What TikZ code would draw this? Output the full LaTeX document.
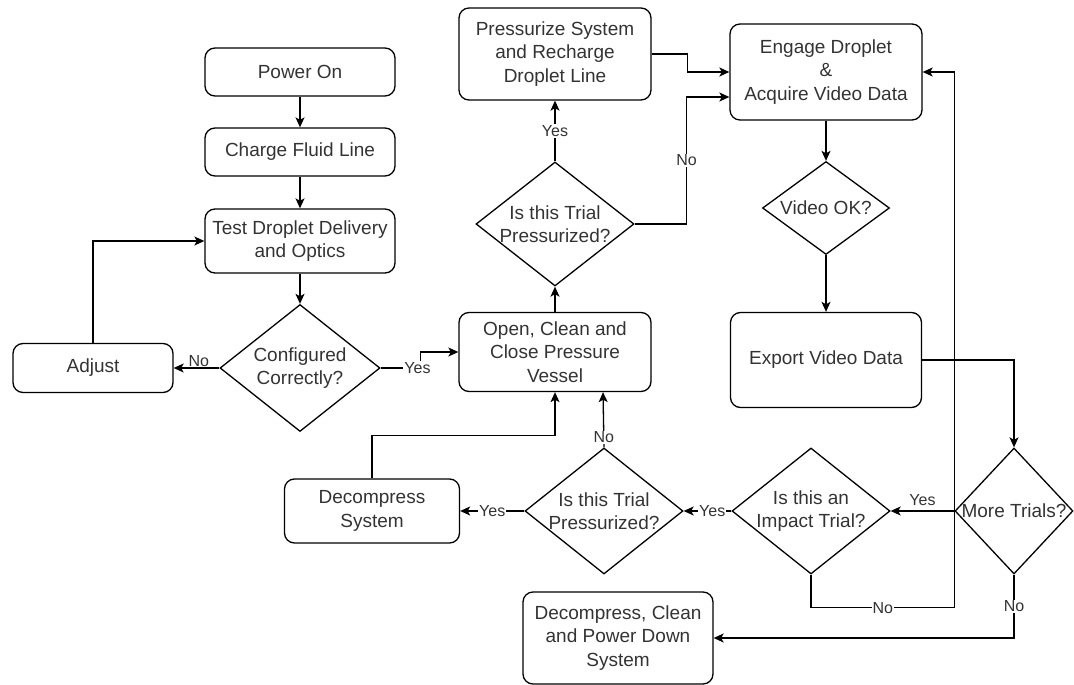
\documentclass[tikz,border=0pt]{standalone}
\usepackage{fontspec}
\setmainfont{Liberation Sans}
\usetikzlibrary{arrows.meta,shapes.geometric}
\begin{document}
\begin{tikzpicture}[x=1pt, y=-1pt, line width=1.3pt, >={Stealth[length=10pt,width=9pt,inset=2.5pt]},
  box/.style={draw, rounded corners=10pt, align=center, inner sep=2pt, text=black!80, font=\fontsize{19}{23.5}\selectfont},
  decision/.style={draw, diamond, inner sep=0pt},
  qtext/.style={align=center, text=black!80, font=\fontsize{19}{23.5}\selectfont},
  lbl/.style={fill=white, inner sep=1pt, text=black!80, font=\fontsize{16}{18}\selectfont}]
  \useasboundingbox (0,0) rectangle (1074,685);
  \node[box, minimum width=190, minimum height=48] (power) at (300,72) {Power On};
  \node[box, minimum width=190, minimum height=48] (charge) at (300,152) {Charge Fluid Line};
  \node[box, minimum width=190, minimum height=64] (test) at (300,241) {Test Droplet Delivery\\and Optics};
  \node[decision, minimum width=160, minimum height=127, label={[qtext]center:{Configured\\Correctly?}}] (config) at (300,368) {};
  \node[box, minimum width=160, minimum height=49] (adjust) at (93,368) {Adjust};
  \node[box, minimum width=192, minimum height=79] (open) at (555,352) {Open, Clean and\\Close Pressure\\Vessel};
  \node[decision, minimum width=158, minimum height=124, label={[qtext]center:{Is this Trial\\Pressurized?}}] (pressq) at (555,224) {};
  \node[box, minimum width=192, minimum height=92] (press) at (555,54) {Pressurize System\\and Recharge\\Droplet Line};
  \node[box, minimum width=192, minimum height=96] (engage) at (826,72) {Engage Droplet\\\&\\Acquire Video Data};
  \node[decision, minimum width=127, minimum height=93, label={[qtext]center:{Video OK?}}] (video) at (826,208) {};
  \node[box, minimum width=191, minimum height=95] (export) at (826,360) {Export Video Data};
  \node[decision, minimum width=118, minimum height=126, label={[qtext]center:{More Trials?}}] (more) at (1014,511) {};
  \node[decision, minimum width=158, minimum height=126, label={[qtext]center:{Is this an\\Impact Trial?}}] (impact) at (811,511) {};
  \node[decision, minimum width=158, minimum height=126, label={[qtext]center:{Is this Trial\\Pressurized?}}] (pressq2) at (604,511) {};
  \node[box, minimum width=175, minimum height=64] (decomp) at (372,511) {Decompress\\System};
  \node[box, minimum width=190, minimum height=92] (final) at (618,638) {Decompress, Clean\\and Power Down\\System};
  \draw[->] (power) -- (charge);
  \draw[->] (charge) -- (test);
  \draw[->] (test) -- (config);
  \draw[->] (config) -- node[above, lbl, fill=none, pos=0.45]{No} (adjust);
  \draw[->] (adjust.north) |- (test.west);
  \draw[->] (config.east) -- node[lbl, pos=0.92]{Yes} ++(40,0) |- (open.west);
  \draw[->] (open) -- (pressq);
  \draw[->] (pressq) -- node[lbl]{Yes} (press);
  \draw[->] (press.east) -- ++(36,0) |- (engage.west);
  \draw[->] (pressq.east) -- ++(52,0) |- node[lbl, pos=0.25]{No} ([yshift=-25pt]engage.west);
  \draw[->] (engage) -- (video);
  \draw[->] (video) -- (export);
  \draw[->] (export.east) -| (more.north);
  \draw[->] (more) -- node[above, lbl, fill=none, yshift=4pt]{Yes} (impact);
  \draw[->] (impact.south) -- ++(0,33) -| node[lbl, pos=0.25]{No} ([xshift=32pt]engage.east) -- (engage.east);
  \draw[->] (more.south) |- node[lbl, pos=0.25]{No} (final.east);
  \draw[->] (impact) -- node[lbl, pos=0.4]{Yes} (pressq2);
  \draw[->] (pressq2.north) -- node[lbl, pos=0.18]{No} ([xshift=48pt]open.south);
  \draw[->] (pressq2) -- node[lbl, pos=0.5]{Yes} (decomp);
  \draw[->] (decomp.north) -- ++(0,-43) -| (open.south);
\end{tikzpicture}
\end{document}
